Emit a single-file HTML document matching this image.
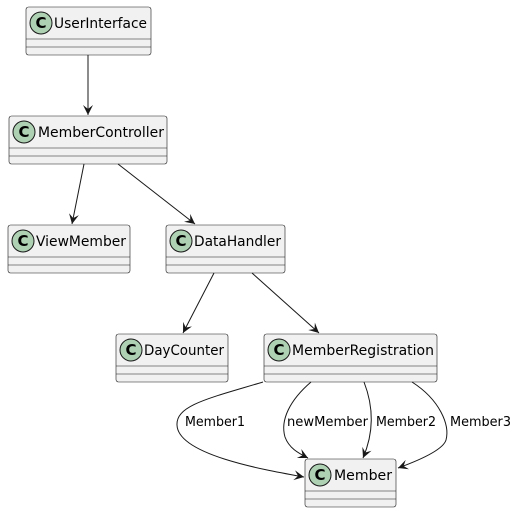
<!DOCTYPE html>
<html><head><style>
body{margin:0;background:#fff}
svg{display:block}
text{font-family:"DejaVu Sans","Liberation Sans",sans-serif;fill:#000}
</style></head><body>
<svg width="518" height="513" viewBox="0 0 518 513" xmlns="http://www.w3.org/2000/svg">
<defs>
<marker id="a" markerWidth="12" markerHeight="12" refX="10" refY="5" orient="auto" markerUnits="userSpaceOnUse">
<path d="M0,0 L10,5 L0,10 L4,5 Z" fill="#181818"/>
</marker>
<g id="c"><circle r="11" fill="#ADD1B2" stroke="#181818" stroke-width="1"/><text x="0" y="5" text-anchor="middle" font-size="15" font-weight="bold" style="fill:#000">C</text></g>
</defs>
<g fill="#F1F1F1" stroke="#181818" stroke-width="0.6">
<rect x="26" y="7" width="125" height="48" rx="2.5"/>
<rect x="9" y="116" width="158" height="48" rx="2.5"/>
<rect x="8" y="225" width="122" height="48" rx="2.5"/>
<rect x="166" y="225" width="119" height="48" rx="2.5"/>
<rect x="116" y="334" width="112" height="48" rx="2.5"/>
<rect x="264" y="334" width="173" height="48" rx="2.5"/>
<rect x="305" y="459" width="91" height="48" rx="2.5"/>
</g>
<g stroke="#181818" stroke-width="0.6">
<path d="M26,39h125M26,47h125M9,148h158M9,156h158M8,257h122M8,265h122M166,257h119M166,265h119M116,366h112M116,374h112M264,366h173M264,374h173M305,491h91M305,499h91"/>
</g>
<use href="#c" x="41" y="23"/><use href="#c" x="24" y="132"/><use href="#c" x="23" y="241"/>
<use href="#c" x="181" y="241"/><use href="#c" x="131" y="350"/><use href="#c" x="279" y="350"/><use href="#c" x="320" y="475"/>
<g font-size="14">
<text x="54" y="28" textLength="93" lengthAdjust="spacingAndGlyphs">UserInterface</text>
<text x="38" y="137" textLength="126" lengthAdjust="spacingAndGlyphs">MemberController</text>
<text x="36" y="246" textLength="90" lengthAdjust="spacingAndGlyphs">ViewMember</text>
<text x="194" y="246" textLength="87" lengthAdjust="spacingAndGlyphs">DataHandler</text>
<text x="144" y="355" textLength="80" lengthAdjust="spacingAndGlyphs">DayCounter</text>
<text x="292" y="355" textLength="142" lengthAdjust="spacingAndGlyphs">MemberRegistration</text>
<text x="334" y="480" textLength="58" lengthAdjust="spacingAndGlyphs">Member</text>
</g>
<g fill="none" stroke="#181818" stroke-width="1" marker-end="url(#a)">
<path d="M88,55 L88,115"/>
<path d="M84,164 L72,224"/>
<path d="M118,164 L195,224"/>
<path d="M214,273 L183,333"/>
<path d="M252,273 L319,333"/>
<path d="M263,382 C210,398 176,405 177,425 C178,455 265,470 304,477"/>
<path d="M311,382 C290,400 280,420 285,437 C289,448 298,453 308,458"/>
<path d="M364,382 C373,405 375,430 363,458"/>
<path d="M412,382 C440,400 450,425 446,440 C443,450 420,460 398,468"/>
</g>
<g font-size="13">
<text x="185" y="426" textLength="60" lengthAdjust="spacingAndGlyphs">Member1</text>
<text x="287" y="426" textLength="81" lengthAdjust="spacingAndGlyphs">newMember</text>
<text x="376" y="426" textLength="60" lengthAdjust="spacingAndGlyphs">Member2</text>
<text x="450" y="426" textLength="61" lengthAdjust="spacingAndGlyphs">Member3</text>
</g>
</svg>
</body></html>
